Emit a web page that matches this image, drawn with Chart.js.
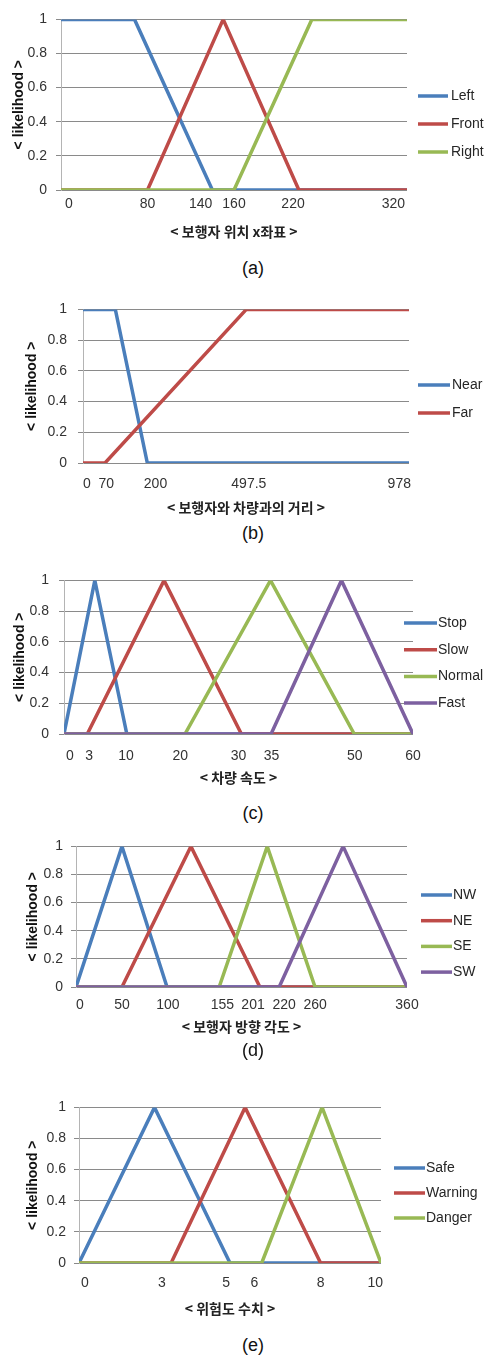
<!DOCTYPE html>
<html>
<head>
<meta charset="utf-8">
<script src="https://cdn.jsdelivr.net/npm/chart.js@4.4.1/dist/chart.umd.min.js"></script>
<style>
  html, body { margin:0; padding:0; background:#fff; }
  body { width:493px; height:1356px; position:relative; overflow:hidden; }
  .box { position:absolute; left:0; }
  .cap { position:absolute; left:0; width:506px; text-align:center; font:18px "Liberation Sans", Arial, sans-serif; color:#111; height:22px; line-height:22px; }
</style>
</head>
<body>
<script>
// ---------- DATA ----------
// (a) pedestrian x position
const aLabels = ['Left', 'Front', 'Right'];
const aTicks = [0, 80, 140, 160, 220, 320];
const aLeftX = [0, 68, 140, 320],        aLeftY = [1, 1, 0, 0];
const aFrontX = [0, 80, 150, 220, 320],  aFrontY = [0, 0, 1, 0, 0];
const aRightX = [0, 160, 232, 320],      aRightY = [0, 0, 1, 1];

// (b) distance between pedestrian and vehicle
const bLabels = ['Near', 'Far'];
const bTicks = [0, 70, 200, 497.5, 978];
const bNearX = [0, 97, 193, 978],  bNearY = [1, 1, 0, 0];
const bFarX = [0, 66, 490, 978],   bFarY = [0, 0, 1, 1];

// (c) vehicle speed
const cLabels = ['Stop', 'Slow', 'Normal', 'Fast'];
const cTicks = [0, 3, 10, 20, 30, 35, 50, 60];
const cStopX = [0, 5.3, 10.8, 60],          cStopY = [0, 1, 0, 0];
const cSlowX = [0, 4, 17.2, 30.5, 60],      cSlowY = [0, 0, 1, 0, 0];
const cNormalX = [0, 20.8, 35.5, 49.9, 60], cNormalY = [0, 0, 1, 0, 0];
const cFastX = [0, 35.6, 47.7, 60],         cFastY = [0, 0, 1, 0];

// (d) pedestrian heading angle
const dLabels = ['NW', 'NE', 'SE', 'SW'];
const dTicks = [0, 50, 100, 155, 201, 220, 260, 360];
const dNWX = [0, 50, 99, 360],        dNWY = [0, 1, 0, 0];
const dNEX = [0, 50, 125, 200, 360],  dNEY = [0, 0, 1, 0, 0];
const dSEX = [0, 155.7, 208, 260, 360], dSEY = [0, 0, 1, 0, 0];
const dSWX = [0, 221, 290.5, 360],    dSWY = [0, 0, 1, 0];

// (e) risk value
const eLabels = ['Safe', 'Warning', 'Danger'];
const eTicks = [0, 3, 5, 6, 8, 10];
const eSafeX = [0, 2.5, 5, 10],        eSafeY = [0, 1, 0, 0];
const eWarnX = [0, 3.05, 5.5, 8, 10],  eWarnY = [0, 0, 1, 0, 0];
const eDangerX = [0, 6.05, 8.05, 10],  eDangerY = [0, 0, 1, 0];

const yTickValues = [0, 0.2, 0.4, 0.6, 0.8, 1];
// ---------- END DATA ----------

const COLORS = ['#4A7EBB', '#BE4B48', '#98B954', '#7D60A0'];
const LINE_W = 3.5;
const pts = (xs, ys) => xs.map((x, i) => ({ x: x, y: ys[i] }));

const sideLegend = {
  id: 'sideLegend',
  afterDraw(chart, args, o) {
    const ctx = chart.ctx;
    chart.data.datasets.forEach((ds, i) => {
      const y = o.y + i * o.gap;
      ctx.save();
      ctx.strokeStyle = ds.borderColor;
      ctx.lineWidth = LINE_W;
      ctx.beginPath();
      ctx.moveTo(o.x, y);
      ctx.lineTo(o.x + o.len, y);
      ctx.stroke();
      ctx.fillStyle = '#262626';
      ctx.font = '14px "Liberation Sans", Arial, sans-serif';
      ctx.textBaseline = 'middle';
      ctx.textAlign = 'left';
      ctx.fillText(ds.label, o.tx, y);
      ctx.restore();
    });
  }
};

function makeChart(spec) {
  const L = spec.layout;
  const W = 493;
  const cTop = L.t - 14;
  const cBottom = L.titleY + 14;
  const H = cBottom - cTop;
  const div = document.createElement('div');
  div.className = 'box';
  div.style.top = cTop + 'px';
  div.style.width = W + 'px';
  div.style.height = H + 'px';
  const cv = document.createElement('canvas');
  cv.width = W; cv.height = H;
  cv.style.width = W + 'px'; cv.style.height = H + 'px';
  div.appendChild(cv);
  document.body.appendChild(div);

  const cap = document.createElement('div');
  cap.className = 'cap';
  cap.style.top = (L.capY - 11) + 'px';
  cap.textContent = spec.caption;
  document.body.appendChild(cap);

  const n = spec.series.length;
  const datasets = spec.series.map((s, i) => ({
    label: spec.labels[i],
    data: pts(s[0], s[1]),
    borderColor: COLORS[i],
    backgroundColor: COLORS[i],
    borderWidth: LINE_W,
    pointRadius: 0,
    pointHoverRadius: 0,
    tension: 0,
    fill: false,
    order: n - i
  }));
  const tickFont = { family: '"Liberation Sans", Arial, sans-serif', size: 14 };
  const nudge = spec.nudge || {};
  const xLH = 14 * 1.2;

  new Chart(cv, {
    type: 'line',
    data: { datasets },
    plugins: [sideLegend],
    options: {
      responsive: false,
      animation: false,
      events: [],
      layout: { padding: { top: L.t - cTop, right: W - L.r, left: 0, bottom: 0 } },
      plugins: {
        legend: { display: false },
        tooltip: { enabled: false },
        sideLegend: {
          x: L.lg.x, len: L.lg.len, tx: L.lg.tx, gap: L.lg.gap, y: L.lg.y - cTop
        }
      },
      scales: {
        x: {
          type: 'linear',
          min: spec.xMin, max: spec.xMax,
          afterBuildTicks: (sc) => { sc.ticks = spec.ticks.map(v => ({ value: v })); },
          afterFit: (sc) => { sc.height = cBottom - L.b; },
          grid: { display: false, drawTicks: false },
          border: { display: false },
          ticks: {
            autoSkip: false,
            maxRotation: 0,
            minRotation: 0,
            padding: L.tickY - L.b - xLH / 2,
            color: '#333',
            font: tickFont,
            callback: (v) => {
              const s = String(v);
              const d = nudge[v];
              if (!d) return s;
              const sp = ' '.repeat(Math.round(Math.abs(d) * 2 / 3.9));
              return d < 0 ? s + sp : sp + s;
            }
          },
          title: {
            display: true,
            text: spec.xTitle,
            color: '#222',
            font: { family: '"Noto Sans CJK KR", sans-serif', size: 14, weight: 'bold', lineHeight: 1.2 },
            padding: { top: 0, bottom: (cBottom - L.titleY) - xLH / 2 }
          }
        },
        y: {
          type: 'linear',
          min: 0, max: 1,
          afterBuildTicks: (sc) => { sc.ticks = yTickValues.map(v => ({ value: v })); },
          afterFit: (sc) => { sc.width = L.l; },
          grid: { color: '#8a8a8a', lineWidth: 1, drawTicks: true, tickLength: 5 },
          border: { display: true, color: '#b4b4b4', width: 1 },
          ticks: {
            padding: L.yGap - 5,
            color: '#333',
            font: tickFont,
            callback: (v) => String(Math.round(v * 10) / 10)
          },
          title: {
            display: true,
            text: '< likelihood >',
            color: '#111',
            font: { family: '"Liberation Sans", Arial, sans-serif', size: 14, weight: 'bold', lineHeight: 1.2 },
            padding: { top: L.yTitleX - xLH / 2, bottom: 0 }
          }
        }
      }
    }
  });
}

makeChart({
  caption: '(a)', xTitle: '< 보행자 위치 x좌표 >', labels: aLabels, ticks: aTicks, xMin: 0, xMax: 320,
  series: [[aLeftX, aLeftY], [aFrontX, aFrontY], [aRightX, aRightY]],
  nudge: { 0: 7, 140: -11, 220: -6, 320: -13 },
  layout: { l: 61, r: 407, t: 16, b: 190, tickY: 204, titleY: 232, capY: 268, yTitleX: 19, yGap: 14,
            lg: { x: 418, len: 30, tx: 451, y: 96, gap: 28 } }
});
makeChart({
  caption: '(b)', xTitle: '< 보행자와 차량과의 거리 >', labels: bLabels, ticks: bTicks, xMin: 0, xMax: 978,
  series: [[bNearX, bNearY], [bFarX, bFarY]],
  nudge: { 0: 4, 200: 6, 978: -10 },
  layout: { l: 83, r: 409, t: 304, b: 463, tickY: 484, titleY: 508, capY: 533, yTitleX: 32, yGap: 16,
            lg: { x: 418, len: 32, tx: 452, y: 385, gap: 28 } }
});
makeChart({
  caption: '(c)', xTitle: '< 차량 속도 >', labels: cLabels, ticks: cTicks, xMin: 0, xMax: 60,
  series: [[cStopX, cStopY], [cSlowX, cSlowY], [cNormalX, cNormalY], [cFastX, cFastY]],
  nudge: { 0: 6, 3: 8, 10: 4, 35: 4 },
  layout: { l: 64, r: 413, t: 576, b: 734, tickY: 756, titleY: 778, capY: 813, yTitleX: 20, yGap: 15,
            lg: { x: 404, len: 33, tx: 438, y: 623, gap: 26.7 } }
});
makeChart({
  caption: '(d)', xTitle: '< 보행자 방향 각도 >', labels: dLabels, ticks: dTicks, xMin: 0, xMax: 360,
  series: [[dNWX, dNWY], [dNEX, dNEY], [dSEX, dSEY], [dSWX, dSWY]],
  nudge: { 0: 4, 155: 4, 201: -7, 220: 6 },
  layout: { l: 76, r: 407, t: 844, b: 987, tickY: 1005, titleY: 1027, capY: 1050, yTitleX: 33, yGap: 13,
            lg: { x: 421, len: 31, tx: 453, y: 895, gap: 25.7 } }
});
makeChart({
  caption: '(e)', xTitle: '< 위험도 수치 >', labels: eLabels, ticks: eTicks, xMin: 0, xMax: 10,
  series: [[eSafeX, eSafeY], [eWarnX, eWarnY], [eDangerX, eDangerY]],
  nudge: { 0: 5, 3: -7, 5: -4, 6: -5, 10: -5 },
  layout: { l: 79, r: 381, t: 1105, b: 1263, tickY: 1283, titleY: 1309, capY: 1345, yTitleX: 33, yGap: 13,
            lg: { x: 394, len: 31, tx: 426, y: 1168, gap: 25 } }
});
</script>
</body>
</html>
